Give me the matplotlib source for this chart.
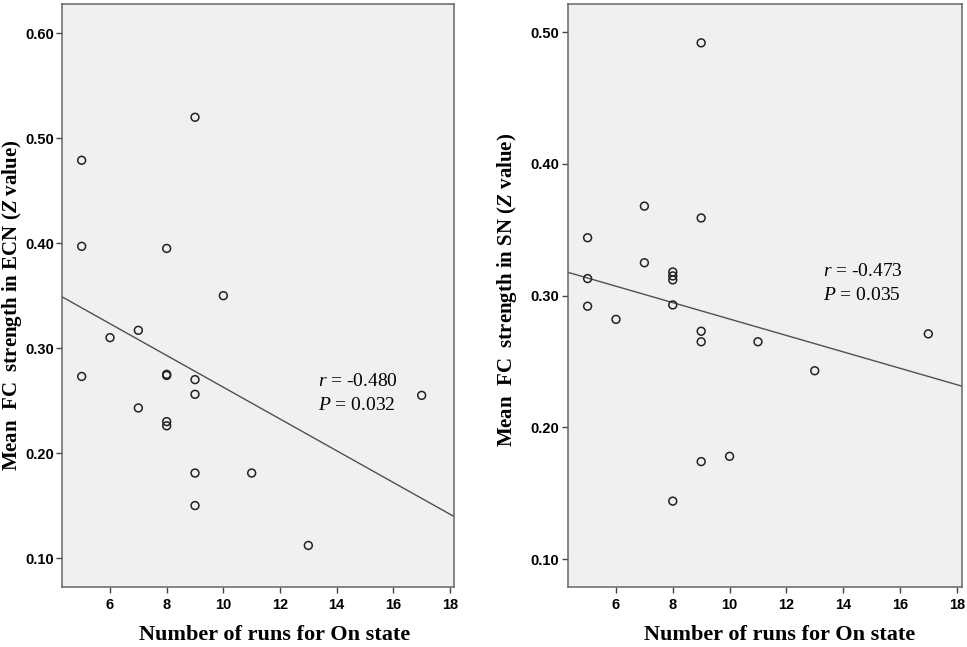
import numpy as np
import matplotlib
matplotlib.use("Agg")
import matplotlib.pyplot as plt

plt.rcParams['mathtext.fontset'] = 'custom'
plt.rcParams['mathtext.rm'] = 'Liberation Serif'
plt.rcParams['mathtext.it'] = 'Liberation Serif:italic'
plt.rcParams['mathtext.bf'] = 'Liberation Serif:bold'
plt.rcParams['mathtext.bfit'] = 'Liberation Serif:italic:bold'

# ---- data ----
runs_ecn = [9, 5, 5, 8, 10, 7, 6, 5, 8, 8, 9, 9, 7, 8, 8, 9, 11, 9, 13, 17]
fc_ecn = [0.520, 0.479, 0.397, 0.395, 0.350, 0.317, 0.310, 0.273, 0.275, 0.274,
          0.270, 0.256, 0.243, 0.230, 0.226, 0.181, 0.181, 0.150, 0.112, 0.255]

runs_sn = [9, 7, 9, 5, 7, 8, 8, 8, 5, 5, 6, 8, 9, 9, 11, 17, 13, 10, 9, 8]
fc_sn = [0.492, 0.368, 0.359, 0.344, 0.325, 0.318, 0.315, 0.312, 0.313, 0.292,
         0.282, 0.293, 0.273, 0.265, 0.265, 0.271, 0.243, 0.178, 0.174, 0.144]

x_ticks = [6, 8, 10, 12, 14, 16, 18]
y_ticks_ecn = [0.10, 0.20, 0.30, 0.40, 0.50, 0.60]
y_ticks_sn = [0.10, 0.20, 0.30, 0.40, 0.50]

stats_ecn = ("-0.480", "0.032")
stats_sn = ("-0.473", "0.035")

xlabel = "Number of runs for On state"
ylabel_ecn = r"Mean  FC  strength in ECN ($\mathbfit{Z}$ value)"
ylabel_sn = r"Mean  FC  strength in SN ($\mathbfit{Z}$ value)"

W, H = 967, 647
fig = plt.figure(figsize=(W / 100, H / 100), dpi=100)


def px_ax(l, r, t, b):
    return fig.add_axes([l / W, 1 - b / H, (r - l) / W, (b - t) / H])


def panel(ax, x, y, xlim, ylim, yticks, stats, text_xy):
    ax.set_facecolor('#f0f0f0')
    ax.scatter(x, y, s=32, facecolors='none', edgecolors='#222222',
               linewidths=1.1, zorder=3)
    k, b0 = np.polyfit(x, y, 1)
    xs = np.array(xlim)
    ax.plot(xs, k * xs + b0, color='#505050', lw=1.0, zorder=2)
    ax.set_xlim(*xlim)
    ax.set_ylim(*ylim)
    ax.set_xticks(x_ticks)
    ax.set_yticks(yticks)
    ax.set_yticklabels([f"{v:.2f}" for v in yticks])
    for s in ax.spines.values():
        s.set_color('#666666')
        s.set_linewidth(1.1)
    ax.tick_params(axis='both', direction='out', length=4, width=1,
                   color='#444444', labelsize=10.5)
    ax.tick_params(axis='x', pad=4)
    ax.tick_params(axis='y', pad=2)
    for lab in ax.get_xticklabels() + ax.get_yticklabels():
        lab.set_fontfamily('Liberation Sans')
        lab.set_fontweight('bold')
    tx, ty1, ty2 = text_xy
    ax.text(tx, ty1, r"$\it{r}$ = " + stats[0], fontsize=14,
            family='Liberation Serif', va='center', ha='left')
    ax.text(tx, ty2, r"$\it{P}$ = " + stats[1], fontsize=14,
            family='Liberation Serif', va='center', ha='left')


ax1 = px_ax(62.3, 454, 4, 586.7)
panel(ax1, runs_ecn, fc_ecn, (4.316, 18.141), (0.0727, 0.6279),
      y_ticks_ecn, stats_ecn, (13.34, 0.268, 0.245))

ax2 = px_ax(567.7, 962, 4, 586.7)
panel(ax2, runs_sn, fc_sn, (4.299, 18.187), (0.0790, 0.5215),
      y_ticks_sn, stats_sn, (13.29, 0.318, 0.3005))

xlab_kw = dict(family='Liberation Serif', fontweight='bold', fontsize=16)
ylab_kw = dict(family='Liberation Serif', fontweight='bold', fontsize=15)
fig.text(275 / W, 1 - 635 / H, xlabel, ha='center', va='center', **xlab_kw)
fig.text(780 / W, 1 - 635 / H, xlabel, ha='center', va='center', **xlab_kw)
fig.text(12 / W, 1 - 305 / H, ylabel_ecn, rotation=90, ha='center', va='center', **ylab_kw)
fig.text(507 / W, 1 - 290 / H, ylabel_sn, rotation=90, ha='center', va='center', **ylab_kw)

fig.savefig("out.png", dpi=100)
